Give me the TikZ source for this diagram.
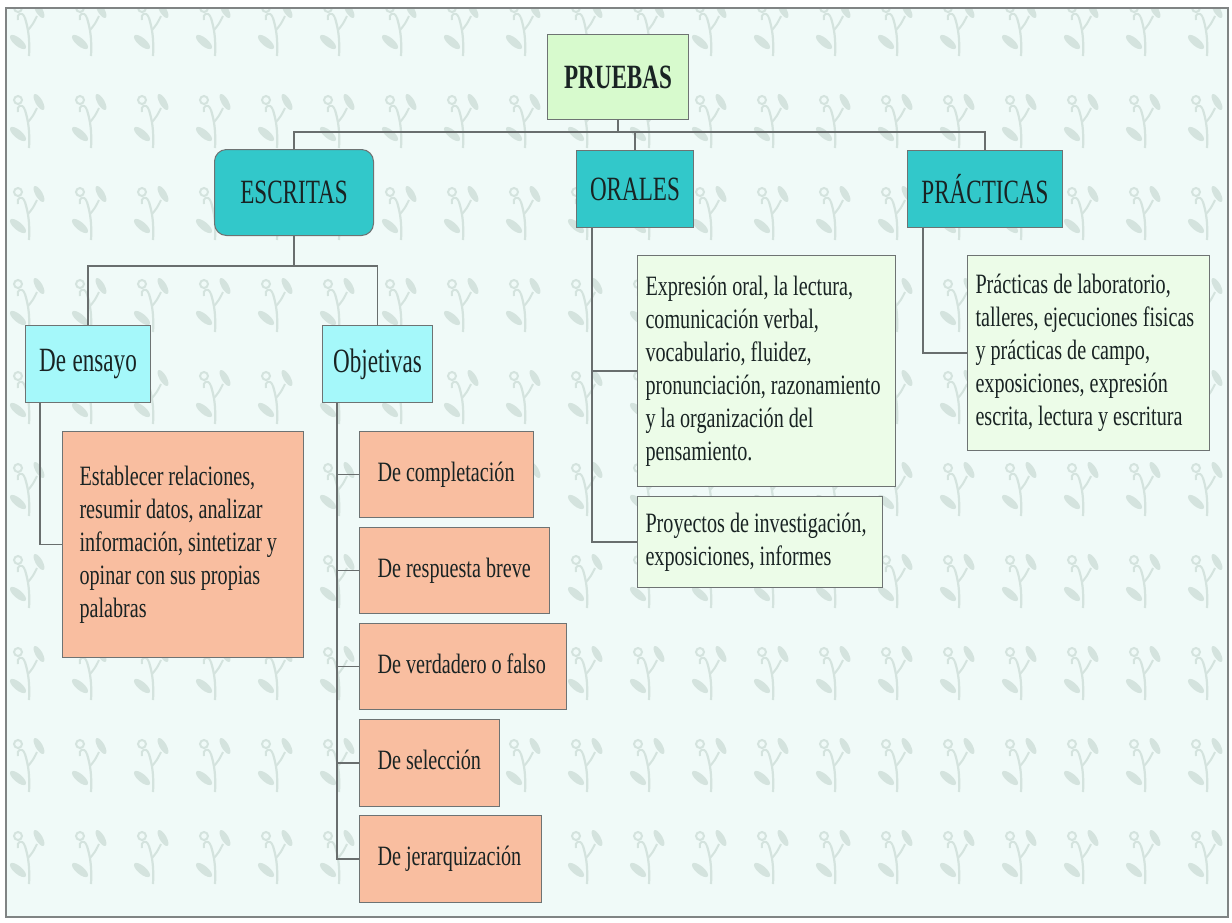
\documentclass[tikz,border=0pt]{standalone}
\usepackage{fontspec}
\newfontfamily\bodyf{Liberation Serif}[FakeStretch=0.72]
\newfontfamily\titf{Liberation Serif}[FakeStretch=0.68]
\newcommand\txtlines[1]{\spaceskip 5pt\relax\xspaceskip 5pt\relax\begin{tabular}{@{}l@{}}#1\end{tabular}}
\newcommand\titfont{\titf\fontsize{34}{40}\selectfont\spaceskip 6.5pt\relax}
\newcommand\titboldfont{\titf\bfseries\fontsize{34}{40}\selectfont}
\newcommand\bodyfont{\bodyf\fontsize{28}{33}\selectfont}
\definecolor{bgc}{RGB}{240,250,248}
\definecolor{plantc}{RGB}{212,227,222}
\definecolor{framec}{RGB}{128,132,132}
\definecolor{lineC}{RGB}{105,110,110}
\definecolor{pgreen}{RGB}{215,250,205}
\definecolor{tealC}{RGB}{50,200,202}
\definecolor{lcyan}{RGB}{165,248,250}
\definecolor{salmonC}{RGB}{249,190,160}
\definecolor{lgreen}{RGB}{236,252,232}
\definecolor{edgeC}{RGB}{110,115,115}
\definecolor{txtC}{RGB}{25,35,35}
\tikzset{
  plant/.pic={
    \draw[plantc, line width=2.2pt] (1,28) .. controls (2,10) and (0,0) .. (-3,-10);
    \draw[plantc, line width=2pt] (-3,-10) .. controls (-6,-18) and (-12,-14) .. (-10,-8);
    \draw[plantc, line width=2pt] (-10,-20) circle [radius=4pt];
    \draw[plantc, line width=2pt] (0,2) .. controls (5,-4) .. (9,-12);
    \fill[plantc, rotate around={30:(11,-18)}] (11,-18) ellipse [x radius=3.5pt, y radius=9pt];
    \fill[plantc, rotate around={50:(-10,14)}] (-10,14) ellipse [x radius=4pt, y radius=10pt];
  },
  box/.style={draw=edgeC, line width=1pt, inner sep=0pt, anchor=north west, text=txtC},
  titlebox/.style={box, font=\titfont},
  textbox/.style={box, font=\bodyfont, align=left},
  conn/.style={draw=lineC, line width=1.3pt}
}
\begin{document}
\begin{tikzpicture}[x=1pt, y=-1pt]
\useasboundingbox (0,0) rectangle (1232,922);
\fill[white] (0,0) rectangle (1232,922);
\fill[bgc] (6,8) rectangle (1228,917);
\begin{scope}
  \clip (6,8) rectangle (1228,917);
  \foreach \i in {0,...,19} {
    \foreach \j in {0,...,9} {
      \pic at ({28+62*\i},{28+92*\j}) {plant};
    }
  }
\end{scope}
\draw[framec, line width=1.2pt] (6,8) rectangle (1228,917);

% top level
\node[titlebox, fill=pgreen, minimum width=141pt, minimum height=85pt, font=\titboldfont] (pru) at (547,34) {PRUEBAS};
\node[titlebox, fill=tealC, rounded corners=12pt, minimum width=159pt, minimum height=86pt] (esc) at (214,149) {ESCRITAS};
\node[titlebox, fill=tealC, minimum width=117pt, minimum height=77pt] (ora) at (576,150) {ORALES};
\node[titlebox, fill=tealC, minimum width=155pt, minimum height=77pt] (pra) at (907,150) {PRÁCTICAS};

% escritas children
\node[titlebox, fill=lcyan, minimum width=125pt, minimum height=77pt] (ens) at (25,325) {De ensayo};
\node[titlebox, fill=lcyan, minimum width=110pt, minimum height=77pt] (obj) at (322,325) {Objetivas};

\node[textbox, fill=salmonC, text width=207pt, inner xsep=17pt, minimum height=226pt] (est) at (62,431)
  {\txtlines{Establecer relaciones,\\ resumir datos, analizar\\ información, sintetizar y\\ opinar con sus propias\\ palabras}};

\node[textbox, fill=salmonC, text width=138pt, inner xsep=18pt, minimum height=86pt] (o1) at (359,431) {\txtlines{De completación}};
\node[textbox, fill=salmonC, text width=154pt, inner xsep=18pt, minimum height=86pt] (o2) at (359,527) {\txtlines{De respuesta breve}};
\node[textbox, fill=salmonC, text width=171pt, inner xsep=18pt, minimum height=86pt] (o3) at (359,623) {\txtlines{De verdadero o falso}};
\node[textbox, fill=salmonC, text width=104pt, inner xsep=18pt, minimum height=87pt] (o4) at (359,719) {\txtlines{De selección}};
\node[textbox, fill=salmonC, text width=146pt, inner xsep=18pt, minimum height=87pt] (o5) at (359,815) {\txtlines{De jerarquización}};

% orales children
\node[textbox, fill=lgreen, text width=242pt, inner xsep=8pt, minimum height=231pt] (or1) at (637,255)
  {\txtlines{Expresión oral, la lectura,\\ comunicación verbal,\\ vocabulario, fluidez,\\ pronunciación, razonamiento\\ y la organización del\\ pensamiento.}};
\node[textbox, fill=lgreen, text width=229pt, inner xsep=8pt, minimum height=91pt] (or2) at (637,496)
  {\txtlines{Proyectos de investigación,\\ exposiciones, informes}};

% practicas child
\node[textbox, fill=lgreen, text width=226pt, inner xsep=8pt, minimum height=195pt] (pr1) at (967,255)
  {\txtlines{Prácticas de laboratorio,\\ talleres, ejecuciones fisicas\\ y prácticas de campo,\\ exposiciones, expresión\\ escrita, lectura y escritura}};

% connectors
\coordinate (bus) at (0,132);
\coordinate (bus2) at (0,266);
\draw[conn] (pru.south) -- (pru.south |- bus);
\draw[conn] (esc.north) -- (esc.north |- bus) -| (pra.north);
\draw[conn] (ora.north) -- (ora.north |- bus);

\draw[conn] (esc.south) -- (esc.south |- bus2);
\draw[conn] (ens.north) -- (ens.north |- bus2) -| (obj.north);

\coordinate (ensx) at ([xshift=15pt]ens.south west);
\draw[conn] (ensx) |- (est.west);

\coordinate (objx) at ([xshift=15pt]obj.south west);
\foreach \n in {o1,o2,o3,o4,o5} { \draw[conn] (objx) |- (\n.west); }

\coordinate (orax) at ([xshift=16pt]ora.south west);
\draw[conn] (orax) |- (or1.west);
\draw[conn] (orax) |- (or2.west);

\coordinate (prax) at ([xshift=16pt]pra.south west);
\draw[conn] (prax) |- (pr1.west);
\end{tikzpicture}
\end{document}
